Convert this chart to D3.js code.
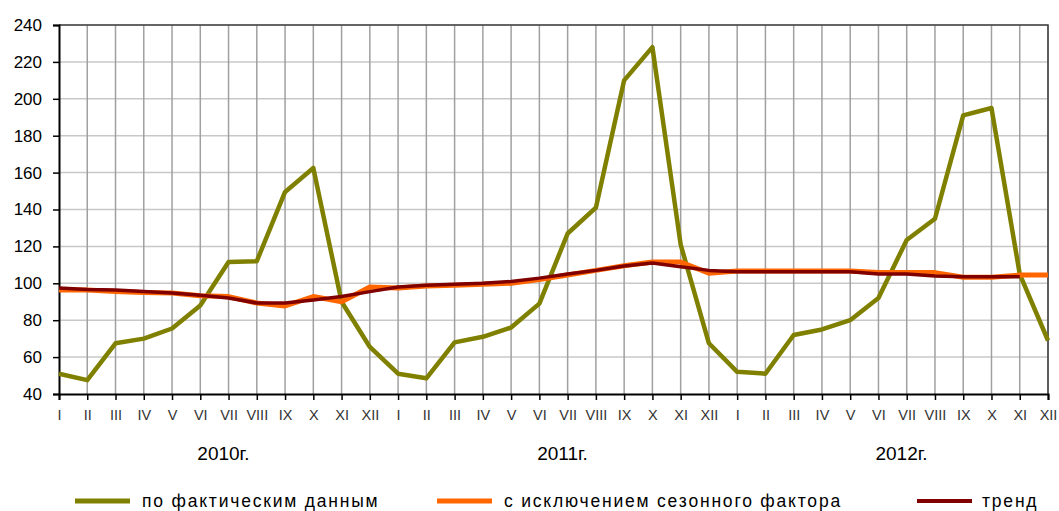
<!DOCTYPE html>
<html>
<head>
<meta charset="utf-8">
<script src="https://cdn.jsdelivr.net/npm/d3@7"></script>
<style>
  body { margin: 0; background: #fff; }
  svg { display: block; font-family: "Liberation Sans", Arial, sans-serif; }
</style>
</head>
<body>
<div id="chart"></div>
<script>
// month labels and years
var months = ["I","II","III","IV","V","VI","VII","VIII","IX","X","XI","XII"]
var years = ["2010г.","2011г.","2012г."]
var yTicks = [40,60,80,100,120,140,160,180,200,220,240]

// по фактическим данным
var actual = [51,47.5,67.5,70,75.5,88,111.5,112,149.5,162.5,90,65.5,
              51,48.5,68,71,76,89,127,141,210,228,121,67.5,
              52,51,72,75,80,92,123.5,135,191,195,105,69]
// с исключением сезонного фактора
var seasonal = [96.4,96.4,95.5,95,94.7,93.3,92.8,89.3,87.7,92.8,90,98,
                97.5,98.5,99,99.5,100,102,104.5,107,109.5,111.5,111.5,105.5,
                106.7,106.7,106.7,106.7,106.7,105.8,105.8,105.8,103.3,103.3,104.5,104.5]
// тренд
var trend = [97.4,96.6,96.4,95.5,94.7,93.5,92,89.3,89.3,91,92.8,95.5,
             98,99,99.5,100,101,102.8,105,107,109.4,111,109,107,
             106.3,106.3,106.3,106.3,106.3,105,105,104,103.6,103.6,103.6,null]

var legendItems = [
  {name: "по фактическим данным", color: "#808000", width: 5},
  {name: "с исключением сезонного фактора", color: "#ff6600", width: 5},
  {name: "тренд", color: "#800000", width: 4}
]

var w = 1059, h = 511
var m = {left: 59, right: 1048, top: 25, bottom: 394}

var svg = d3.select("#chart").append("svg")
  .attr("width", w)
  .attr("height", h)

var n = actual.length
var x = d3.scaleLinear().domain([0, n - 1]).range([m.left, m.right])
var y = d3.scaleLinear().domain([40, 240]).range([m.bottom, m.top])

// horizontal grid
svg.append("g")
  .selectAll("line")
  .data(yTicks.slice(1))
  .join("line")
  .attr("x1", m.left).attr("x2", m.right)
  .attr("y1", d => y(d)).attr("y2", d => y(d))
  .attr("stroke", "#c8c8c8")
  .attr("stroke-width", 1.5)

// vertical grid
svg.append("g")
  .selectAll("line")
  .data(d3.range(1, n))
  .join("line")
  .attr("x1", d => x(d)).attr("x2", d => x(d))
  .attr("y1", m.top).attr("y2", m.bottom)
  .attr("stroke", "#a0a0a0")
  .attr("stroke-width", 1.5)

// frame top and right
svg.append("path")
  .attr("d", `M${m.left},${m.top}H${m.right}V${m.bottom}`)
  .attr("fill", "none")
  .attr("stroke", "#404040")
  .attr("stroke-width", 1.5)

// y axis
var yAxis = svg.append("g")
  .attr("transform", `translate(${m.left},0)`)
  .call(d3.axisLeft(y).tickValues(yTicks).tickSize(6).tickPadding(11))
yAxis.select(".domain").attr("stroke", "#000").attr("stroke-width", 2)
yAxis.selectAll(".tick line").attr("stroke", "#000").attr("stroke-width", 1.5)
yAxis.selectAll("text").attr("font-size", 17).attr("fill", "#000")
  .attr("font-family", "Liberation Sans, Arial, sans-serif")

// x axis
var xAxis = svg.append("g")
  .attr("transform", `translate(0,${m.bottom})`)
  .call(d3.axisBottom(x).tickValues(d3.range(n)).tickSize(6)
    .tickFormat(i => months[i % 12]).tickPadding(10))
xAxis.select(".domain").attr("stroke", "#000").attr("stroke-width", 2)
xAxis.selectAll(".tick line").attr("stroke", "#000").attr("stroke-width", 1.5)
xAxis.selectAll("text").attr("font-size", 14.5).attr("fill", "#333")
  .attr("font-family", "Liberation Sans, Arial, sans-serif")

// year labels
svg.append("g")
  .selectAll("text")
  .data(years)
  .join("text")
  .attr("x", (d, i) => x(i * 12 + 5.5) + 9)
  .attr("y", 460)
  .attr("text-anchor", "middle")
  .attr("font-size", 19)
  .attr("fill", "#000")
  .text(d => d)

var line = d3.line()
  .defined(d => d != null)
  .x((d, i) => x(i))
  .y(d => y(d))

var series = [
  {data: actual, color: "#808000", width: 4.5},
  {data: seasonal, color: "#ff6600", width: 5},
  {data: trend, color: "#800000", width: 3.5}
]

svg.append("g")
  .selectAll("path")
  .data(series)
  .join("path")
  .attr("d", d => line(d.data))
  .attr("fill", "none")
  .attr("stroke", d => d.color)
  .attr("stroke-width", d => d.width)
  .attr("stroke-linejoin", "round")

// legend
var legendX = [75, 437, 917]
var legend = svg.append("g")
  .selectAll("g")
  .data(legendItems)
  .join("g")
  .attr("transform", (d, i) => `translate(${legendX[i]},501)`)

legend.append("line")
  .attr("x1", 0).attr("x2", 55)
  .attr("stroke", d => d.color)
  .attr("stroke-width", d => d.width)

legend.append("text")
  .attr("x", (d, i) => i == 2 ? 65 : 67)
  .attr("y", 0)
  .attr("dy", "0.32em")
  .attr("font-size", 17.5)
  .attr("letter-spacing", 1.8)
  .attr("fill", "#000")
  .text(d => d.name)
</script>
</body>
</html>
